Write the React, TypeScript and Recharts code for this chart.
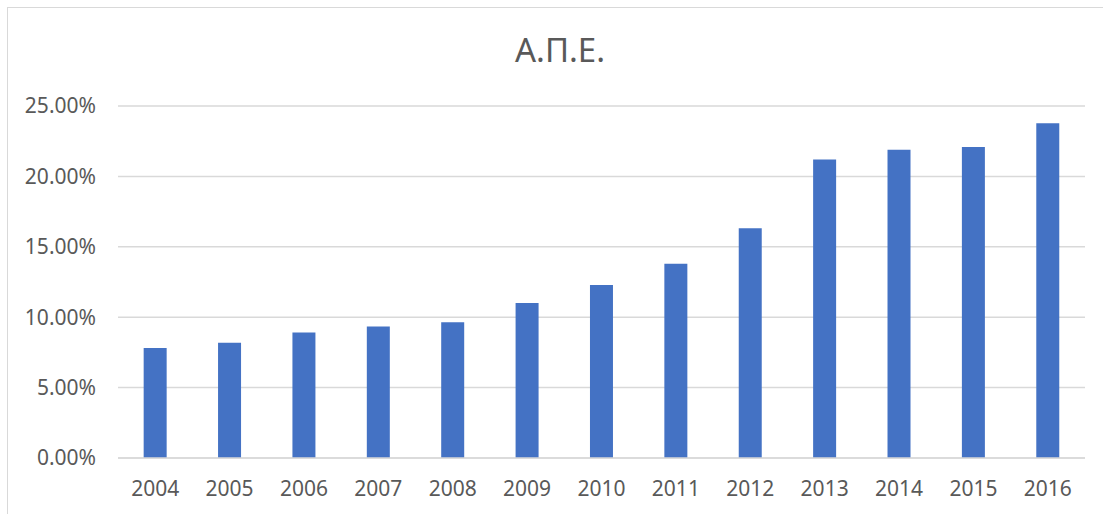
import React from 'react';
import { BarChart, Bar, XAxis, YAxis, CartesianGrid } from 'recharts';

// Share of renewable energy sources (Α.Π.Ε.) per year
const years = ['2004', '2005', '2006', '2007', '2008', '2009', '2010', '2011', '2012', '2013', '2014', '2015', '2016'];
const shares = [0.0782, 0.0818, 0.0891, 0.0934, 0.0965, 0.110, 0.1229, 0.138, 0.1631, 0.212, 0.2189, 0.2208, 0.2378];
const yTicks = [0, 0.05, 0.1, 0.15, 0.2, 0.25];

const data = years.map((year, i) => ({ year, share: shares[i] }));

const FONT = '"Noto Sans", "Open Sans", sans-serif';
const TEXT = '#595959';
const GRID = '#d9d9d9';

export default function App() {
  return (
    <div style={{ position: 'absolute', left: 0, top: 0, width: 1103, height: 514, overflow: 'hidden', background: '#fff' }}>
      <div
        style={{
          position: 'absolute',
          left: 7,
          top: 7,
          width: 1200,
          height: 600,
          border: `1px solid ${GRID}`,
          boxSizing: 'border-box',
        }}
      />
      <div
        style={{
          position: 'absolute',
          left: 0,
          top: 34,
          width: 1120,
          textAlign: 'center',
          fontFamily: FONT,
          fontSize: 33,
          lineHeight: '32px',
          color: TEXT,
        }}
      >
        Α.Π.Ε.
      </div>
      <div style={{ position: 'absolute', left: 0, top: 0 }}>
        <BarChart
          width={1103}
          height={514}
          data={data}
          margin={{ top: 106, right: 18, left: 0, bottom: 0 }}
          barCategoryGap="34.5%"
        >
          <CartesianGrid vertical={false} stroke={GRID} strokeWidth={1.5} />
          <XAxis
            dataKey="year"
            height={56}
            axisLine={{ stroke: GRID, strokeWidth: 1.5 }}
            tickLine={false}
            tickSize={6}
            tickMargin={17}
            tick={{ fill: TEXT, fontSize: 21, fontFamily: FONT }}
            interval={0}
          />
          <YAxis
            width={118}
            domain={[0, 0.25]}
            ticks={yTicks}
            axisLine={false}
            tickLine={false}
            tickSize={6}
            tickMargin={16}
            tick={{ fill: TEXT, fontSize: 21, fontFamily: FONT }}
            tickFormatter={(v: number) => `${(v * 100).toFixed(2)}%`}
          />
          <Bar dataKey="share" fill="#4472c4" isAnimationActive={false} />
        </BarChart>
      </div>
    </div>
  );
}
